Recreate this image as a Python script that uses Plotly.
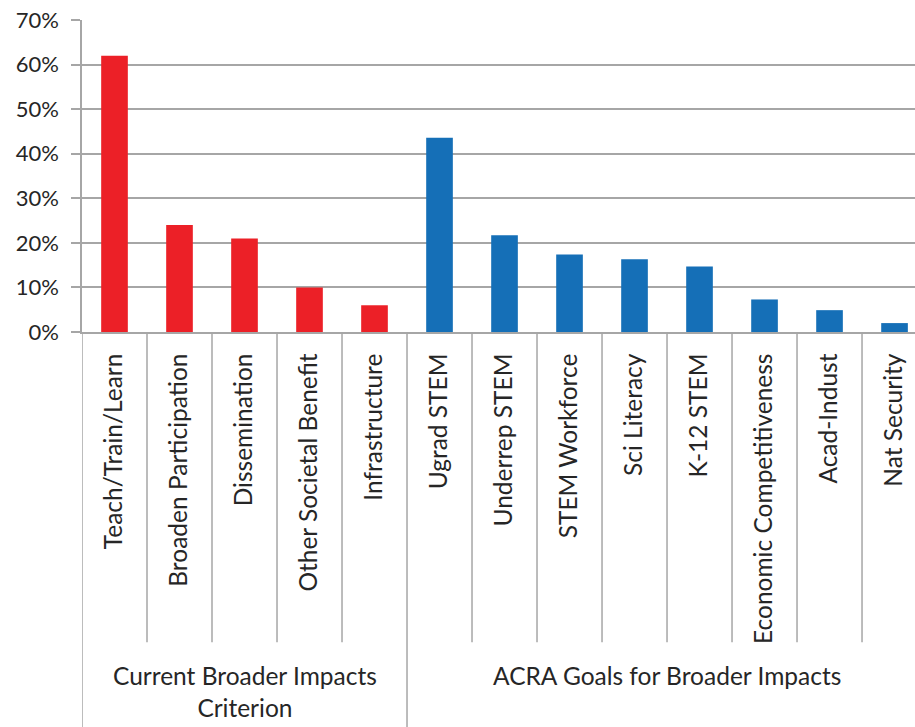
import plotly.graph_objects as go

# Broader-impact categories, grouped by the criterion they belong to
categories = [
    "Teach/Train/Learn", "Broaden Participation", "Dissemination",
    "Other Societal Benefit", "Infrastructure",
    "Ugrad STEM", "Underrep STEM", "STEM Workforce", "Sci Literacy",
    "K-12 STEM", "Economic Competitiveness", "Acad-Indust", "Nat Security",
]
groups = ["Current Broader Impacts<br>Criterion", "ACRA Goals for Broader Impacts"]
group_sizes = [5, 8]
values = [0.62, 0.24, 0.21, 0.10, 0.06,
          0.436, 0.217, 0.174, 0.163, 0.147, 0.073, 0.049, 0.02]
y_ticks = [0, 0.1, 0.2, 0.3, 0.4, 0.5, 0.6, 0.7]

RED = "#EC2027"
BLUE = "#156FB7"
GRID = "#A6A6A6"
TEXT = "#262626"
FONT = "Lato"

colors = [RED] * group_sizes[0] + [BLUE] * group_sizes[1]

fig = go.Figure(go.Bar(
    x=categories, y=values, marker=dict(color=colors, line=dict(width=0)),
    width=0.41,
))

shapes = []
boundaries = [sum(group_sizes[:k + 1]) for k in range(len(group_sizes))]
# separators between categories under the axis
for i in range(1, len(categories)):
    long_line = i in boundaries
    shapes.append(dict(
        type="line", xref="x", yref="paper",
        x0=i - 0.5, x1=i - 0.5, y0=0, y1=-1.27 if long_line else -0.994,
        line=dict(color=GRID, width=1.5),
    ))
# left edge extends down through the group-label row
shapes.append(dict(type="line", xref="x", yref="paper", x0=-0.5, x1=-0.5,
                   y0=0, y1=-1.27, line=dict(color=GRID, width=1.5)))

annotations = []
start = 0
for name, n in zip(groups, group_sizes):
    center = start + (n - 1) / 2
    annotations.append(dict(
        x=center, y=-1.048, xref="x", yref="paper", text=name,
        showarrow=False, yanchor="top", xanchor="center",
        font=dict(family=FONT, size=24.5, color=TEXT),
    ))
    start += n

fig.update_layout(
    width=915, height=727,
    margin=dict(l=82, r=0, t=20, b=395),
    paper_bgcolor="white", plot_bgcolor="white",
    showlegend=False,
    shapes=shapes, annotations=annotations,
)
fig.update_xaxes(
    type="category", range=[-0.5, 12.315],
    showline=True, linecolor=GRID, linewidth=1.5,
    ticks="outside", ticklen=10, tickcolor="rgba(0,0,0,0)",
    tickangle=-90, tickfont=dict(family=FONT, size=24.5, color=TEXT),
    showgrid=False,
)
fig.update_yaxes(
    range=[0, 0.7], tickvals=y_ticks, tickformat=".0%",
    showgrid=True, gridcolor=GRID, gridwidth=1.5,
    showline=True, linecolor=GRID, linewidth=1.5,
    ticks="outside", ticklen=9, tickcolor=GRID, tickwidth=1.5,
    ticklabelstandoff=8,
    zeroline=False,
    tickfont=dict(family=FONT, size=22, color=TEXT),
)

fig.write_html("out.html")
